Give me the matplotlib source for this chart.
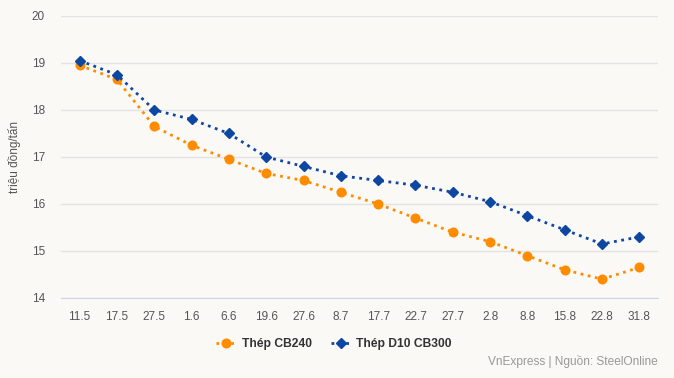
import matplotlib
matplotlib.use("Agg")
import matplotlib.pyplot as plt

# data
dates = ["11.5", "17.5", "27.5", "1.6", "6.6", "19.6", "27.6", "8.7",
         "17.7", "22.7", "27.7", "2.8", "8.8", "15.8", "22.8", "31.8"]
cb240 = [18.95, 18.65, 17.65, 17.25, 16.95, 16.65, 16.5, 16.25,
         16.0, 15.7, 15.4, 15.2, 14.9, 14.6, 14.4, 14.65]
d10_cb300 = [19.05, 18.75, 18.0, 17.8, 17.5, 17.0, 16.8, 16.6,
             16.5, 16.4, 16.25, 16.05, 15.75, 15.45, 15.15, 15.3]
yticks = [14, 15, 16, 17, 18, 19, 20]

bg = "#faf9f6"
orange = "#ff8c00"
blue = "#0d47a1"

plt.rcParams["font.family"] = ["Liberation Sans", "DejaVu Sans"]

fig = plt.figure(figsize=(6.74, 3.78), dpi=100, facecolor=bg)
ax = fig.add_axes([61 / 674, 1 - 298 / 378, 597 / 674, 282 / 378])
ax.set_facecolor(bg)

x = range(len(dates))
ax.plot(x, cb240, linestyle=":", linewidth=2, color=orange, marker="o",
        markersize=6.2, label="Thép CB240")
ax.plot(x, d10_cb300, linestyle=":", linewidth=2, color=blue, marker="D",
        markersize=5, label="Thép D10 CB300")

ax.set_xlim(-0.5, len(dates) - 0.5)
ax.set_ylim(14, 20)
ax.set_yticks(yticks)
ax.set_xticks(list(x))
ax.set_xticklabels(dates)
ax.grid(axis="y", color="#e3e3e3", linewidth=1)
ax.set_axisbelow(True)
for s in ["top", "right", "left"]:
    ax.spines[s].set_visible(False)
ax.spines["bottom"].set_color("#ccd6eb")
ax.tick_params(axis="both", length=0, labelsize=8.5, colors="#555555")
ax.tick_params(axis="x", pad=9)
ax.tick_params(axis="y", pad=11.5)
ax.set_ylabel("triệu đồng/tấn", fontsize=8.5, color="#555555", labelpad=8)

leg = fig.legend(loc="center", bbox_to_anchor=(334 / 674, 1 - 344 / 378),
                 ncol=2, frameon=False, fontsize=8.7, handlelength=1.6,
                 columnspacing=1.6, handletextpad=0.5)
for t in leg.get_texts():
    t.set_fontweight("bold")
    t.set_color("#333333")

fig.text(658 / 674, 1 - 361 / 378, "VnExpress | Nguồn: SteelOnline",
         ha="right", va="center", fontsize=8.6, color="#999999")

fig.savefig("out.png", dpi=100, facecolor=bg)
